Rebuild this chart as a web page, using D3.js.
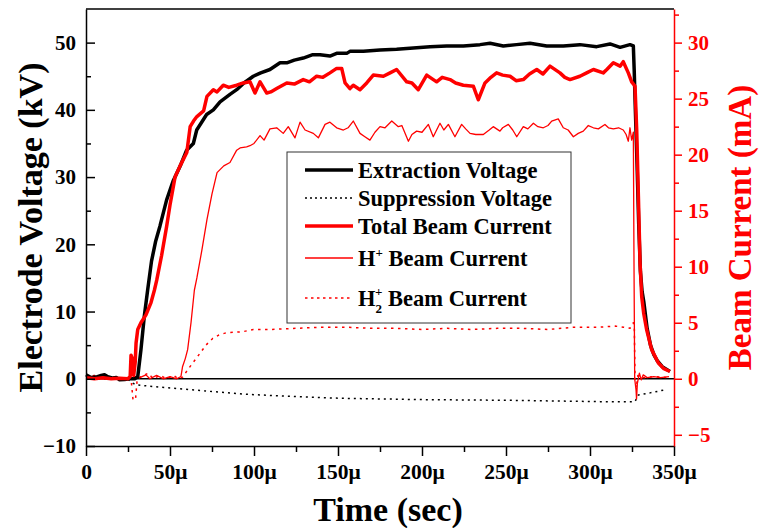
<!DOCTYPE html>
<html>
<head>
<meta charset="utf-8">
<script src="https://cdn.jsdelivr.net/npm/d3@7"></script>
<style>
  body { margin: 0; background: #fff; }
  text { font-family: "Liberation Serif", "Times New Roman", serif; font-weight: bold; }
</style>
</head>
<body>
<script>
'use strict';

// time in microseconds, left axis kV, right axis mA
const extraction = [[0,0.6],[3,0.2],[6,0.25],[9,0.5],[11,0.6],[13,0.3],[16,0.1],[18,0.2],[20,-0.15],[23,-0.1],[26,0],[29,0],
  [30.8,0.3],[32.7,4.3],[34.7,9.3],[36.7,13.2],[39,17.5],[41.5,20.5],[44,22.7],[48,26.6],[52,29.5],[56,31.6],[59.9,34],
  [63.9,35],[65.9,37],[71.8,39.3],[75.8,40],[79.8,41.2],[85.7,42.3],[89.7,43],[94,44],[99.6,45],[104,45.5],[109.5,46],
  [115.5,47],[119.5,47],[124,47.4],[129.3,47.7],[135,48.2],[139.3,48.2],[145.2,48],[149.2,48.4],[155.2,48.4],[157.1,48.7],
  [165.1,48.7],[175,48.9],[184.9,49],[194.8,49.2],[204.8,49.4],[214.7,49.5],[224.6,49.5],[234.5,49.7],[240.5,49.9],
  [248.4,49.5],[256.3,49.7],[264.3,49.9],[274.2,49.5],[284.1,49.5],[294,49.7],[304,49.4],[311.9,49.8],[317.9,49.3],
  [323.8,49.7],[325.8,49.5],[326.3,46],[327,40],[328,32],[329,23],[330,16],[331,13],[332,11.5],[334,7.5],[336,5],
  [338,3.6],[340,2.7],[343,1.8],[347.6,1.1]];

const suppression = [[0,0],[10,0],[20,0],[25,-0.1],[27.8,-0.65],[30,-0.9],[39.7,-1.15],[56,-1.5],[75,-1.9],[95,-2.3],
  [120,-2.6],[151,-2.9],[200,-3.1],[250,-3.2],[306,-3.4],[326,-3.4],[326.8,-3.4],[328.8,-2.4],[335.7,-2.1],[345.6,-1.6]];

const totalCurrent = [[0,0.1],[5,0],[10,0.1],[15,0],[20,0.05],[25,0],[26.3,0.2],[26.8,2.1],[27.6,1.8],[28.4,0.3],[29.3,1.5],
  [29.8,3.2],[30.8,4.4],[32.7,5],[35.7,5.7],[38.7,6.8],[40.7,7.9],[42.1,8.8],[45,11],[48,13.6],[50,15.5],[53,18],[56,19],
  [58,19.6],[60,20.2],[62,22.5],[64,23],[66,23.4],[70,23.9],[72,25.2],[75.8,25.8],[78,25.6],[81.7,26.2],[85,26],[89.7,26.2],
  [93.6,26.4],[97.6,26.5],[100.6,25.5],[103.6,26.5],[107.6,25.5],[110,25.6],[113.5,25.9],[119.5,26.4],[124,26.3],[129.3,26.7],
  [133,26.5],[137.3,27],[141,26.9],[145.2,27.3],[149.2,27.7],[152.2,27.7],[154.2,26.4],[157.1,25.9],[159.1,26.2],[163.1,25.8],
  [167.1,26.4],[171,27.1],[177,27],[181,27.3],[184.9,27.6],[190.9,26.5],[194,26.4],[197.8,25.8],[202.8,27.1],[208.7,26.5],
  [212,26.9],[216.7,26.7],[220,26.4],[224.6,26.2],[230.6,26.1],[233.5,24.9],[237.5,26.4],[241,26.9],[244.4,27.3],[248,27.1],
  [252.4,27],[256,26.6],[260.3,26.7],[264,27.2],[268.3,27.6],[272,27.2],[276.2,27.9],[282.1,27.3],[285,26.9],[288.1,26.7],
  [294,27],[298,27.3],[302,27.6],[307.9,27.3],[310,27.6],[313.9,28.2],[317.9,27.9],[319.8,28.3],[322.8,27.3],[324.8,26.5],
  [325.8,26.3],[326.8,26.1],[327.8,22.2],[328.8,16.3],[329.8,10.3],[330.8,7.3],[332,5.8],[333.7,4.4],[336.7,2.6],[340.7,1.4],
  [344,0.9],[347.6,0.65]];

const hPlusCurrent = [[0,0.1],[8,0.2],[15,0.1],[22,0.1],[26,0.1],[26.8,2.1],[27.5,0.5],[28.5,0.2],[32,0.1],[35.7,0.35],[38,0],
  [42,0.3],[46,0],[50,0.2],[54,0],[56.5,0.2],[57.5,1.1],[59.1,1.8],[60.5,2.6],[62.5,5],[64.5,7.9],[66,9],[69,11.5],[72,14.2],
  [75,16.5],[78,18.4],[82,19],[85.7,19.3],[89.7,20.4],[91.7,20.6],[95.6,20.7],[97.6,20.8],[100,21],[103.6,21.7],[106,21.3],
  [109.5,22.3],[113.5,22.4],[117.4,21.9],[120.4,22.5],[124.4,21.5],[127.4,22.9],[130.4,22.2],[135.3,21.9],[138.3,21.5],
  [142.3,22.7],[145.2,22.9],[149.2,22.4],[153.2,22.2],[156,22.4],[159.1,23],[163.1,21.9],[166,21.6],[169,21.3],[172,22],
  [175,22.5],[178,22.4],[182,23],[185.9,22.5],[188,22.6],[191.9,21.2],[194,21.8],[196.8,22.1],[200,22],[203.8,22.7],
  [206.7,21.6],[210.7,22.8],[213,22.2],[215.7,22.7],[219.6,21.6],[223.6,22.7],[226,22.3],[228.6,21.9],[232,21.8],[236.5,21.8],
  [240,22.2],[242.4,22.5],[246.4,22.1],[248,22.4],[251.4,22.7],[254,22.2],[256.4,21.6],[260.3,22.5],[263,22.3],[266.3,22.8],
  [269,22.5],[272.2,22.4],[275,22.6],[277.2,23],[281.1,23.2],[284.1,22.4],[287,22.2],[290.1,21.6],[293,21.9],[296,22.1],
  [299,22.6],[302,22.4],[305,22.3],[308.9,22.7],[311,22.4],[313.9,22.3],[317,22.4],[319.8,22.2],[321.5,21.8],[322.8,21.2],
  [323.8,22.4],[324.8,21.3],[325.8,22],[326.2,10],[326.6,0],[327.4,-1],[327.7,-1.8],[328.2,-0.4],[329.4,0.5],[330.5,-0.1],
  [331.7,0.35],[334,0.1],[338,0.2],[342,0.1],[347,0.2]];

const h2PlusCurrent = [[0,0.1],[5,0.3],[10,0],[15,0.2],[20,0.1],[25,0],[27,-0.3],[28,-1.9],[29.5,-1.8],[30.5,0],[33,0.2],
  [37,0.5],[40,0],[44,0.3],[48,0],[52,0.3],[55,0],[57.5,0.15],[61.5,1],[66.5,2],[71.4,3],[75.4,3.6],[79,3.9],[83.3,4.1],
  [93.3,4.2],[99.6,4.4],[110,4.4],[125,4.5],[140,4.6],[155,4.6],[170,4.5],[185,4.5],[200,4.4],[215,4.5],[230,4.4],[245,4.5],
  [260,4.5],[275,4.4],[290,4.6],[305,4.6],[315,4.7],[320,4.6],[323.8,4.5],[325.8,5],[326.4,4.4],[326.8,0],[327.5,-0.8],
  [328.5,0.3],[332,0.1],[338,0.2],[347,0.1]];

const xTicks = [0, 50, 100, 150, 200, 250, 300, 350];
const leftTicks = [-10, 0, 10, 20, 30, 40, 50];
const rightTicks = [-5, 0, 5, 10, 15, 20, 25, 30];

const legendItems = [
  { label: 'Extraction Voltage', color: '#000', width: 3.5, dash: null },
  { label: 'Suppression Voltage', color: '#000', width: 1.5, dash: '2,4' },
  { label: 'Total Beam Current', color: '#f00', width: 3.5, dash: null },
  { label: 'H+ Beam Current', color: '#f00', width: 1.3, dash: null },
  { label: 'H2+ Beam Current', color: '#f00', width: 1.5, dash: '2.5,4.5' },
];

const chart = { width: 760, height: 528, left: 86, right: 674, top: 9, bottom: 446 };

const svg = d3.select('body').append('svg')
  .attr('width', chart.width)
  .attr('height', chart.height);

const x = d3.scaleLinear().domain([0, 350]).range([chart.left, chart.right]);
const yL = d3.scaleLinear().domain([-10, 55]).range([chart.bottom, chart.top]);
const yR = d3.scaleLinear().domain([-6, 33]).range([chart.bottom, chart.top]);

// zero line
svg.append('line')
  .attr('x1', chart.left).attr('x2', chart.right)
  .attr('y1', yL(0)).attr('y2', yL(0))
  .attr('stroke', '#000').attr('stroke-width', 1.5);

const lineL = d3.line().x(d => x(d[0])).y(d => yL(d[1]));
const lineR = d3.line().x(d => x(d[0])).y(d => yR(d[1]));

function drawSeries(data, gen, item) {
  const p = svg.append('path')
    .datum(data)
    .attr('d', gen)
    .attr('fill', 'none')
    .attr('stroke', item.color)
    .attr('stroke-width', item.width)
    .attr('stroke-linejoin', 'round');
  if (item.dash) p.attr('stroke-dasharray', item.dash);
}

drawSeries(suppression, lineL, legendItems[1]);
drawSeries(h2PlusCurrent, lineR, legendItems[4]);
drawSeries(hPlusCurrent, lineR, legendItems[3]);
drawSeries(extraction, lineL, legendItems[0]);
drawSeries(totalCurrent, lineR, legendItems[2]);

// legend
const legend = svg.append('g');
legend.append('rect')
  .attr('x', 287).attr('y', 152).attr('width', 284).attr('height', 171)
  .attr('fill', '#fff').attr('stroke', '#333').attr('stroke-width', 1);

const rowY = [170, 198, 226, 258, 298];
legendItems.forEach((item, i) => {
  const l = legend.append('line')
    .attr('x1', 305).attr('x2', 353)
    .attr('y1', rowY[i]).attr('y2', rowY[i])
    .attr('stroke', item.color).attr('stroke-width', item.width);
  if (item.dash) l.attr('stroke-dasharray', item.dash === '2,4' ? '2,3' : '2.5,3.5');
  const t = legend.append('text')
    .attr('x', 358).attr('y', rowY[i] + 7.5)
    .attr('font-size', 22.5);
  if (i === 3) {
    t.append('tspan').text('H');
    t.append('tspan').attr('font-size', 13).attr('dy', -9).text('+');
    t.append('tspan').attr('dy', 9).text(' Beam Current');
  } else if (i === 4) {
    t.append('tspan').text('H');
    t.append('tspan').attr('font-size', 13).attr('dy', 7).text('2');
    t.append('tspan').attr('font-size', 13).attr('dx', -7).attr('dy', -17).text('+');
    t.append('tspan').attr('dy', 10).text(' Beam Current');
  } else {
    t.text(item.label);
  }
});

// top border
svg.append('line')
  .attr('x1', chart.left).attr('x2', chart.right)
  .attr('y1', chart.top).attr('y2', chart.top)
  .attr('stroke', '#000').attr('stroke-width', 1.5);

// axes
const fmtX = d => d === 0 ? '0' : d + 'μ';

const gx = svg.append('g')
  .attr('transform', `translate(0,${chart.bottom})`)
  .call(d3.axisBottom(x).tickValues(xTicks).tickFormat(fmtX).tickSize(10).tickSizeOuter(0).tickPadding(8));
svg.append('g')
  .attr('transform', `translate(0,${chart.bottom})`)
  .call(d3.axisBottom(x).tickValues(d3.range(25, 350, 50)).tickFormat('').tickSize(6).tickSizeOuter(0))
  .select('.domain').remove();

const gl = svg.append('g')
  .attr('transform', `translate(${chart.left},0)`)
  .call(d3.axisLeft(yL).tickValues(leftTicks).tickSize(-9).tickSizeOuter(0).tickPadding(10));
svg.append('g')
  .attr('transform', `translate(${chart.left},0)`)
  .call(d3.axisLeft(yL).tickValues(d3.range(-5, 55, 10)).tickFormat('').tickSize(-5).tickSizeOuter(0))
  .select('.domain').remove();

const gr = svg.append('g')
  .attr('transform', `translate(${chart.right},0)`)
  .call(d3.axisRight(yR).tickValues(rightTicks).tickSize(8).tickSizeOuter(0).tickPadding(6));
const grm = svg.append('g')
  .attr('transform', `translate(${chart.right},0)`)
  .call(d3.axisRight(yR).tickValues(d3.range(-2.5, 33, 5)).tickFormat('').tickSize(5).tickSizeOuter(0));
grm.select('.domain').remove();

svg.selectAll('.tick line, .domain').attr('stroke', '#000').attr('stroke-width', 1.5);
[gr, grm].forEach(g => {
  g.selectAll('path, line').attr('stroke', '#f00').attr('stroke-width', 1.5);
});
[gx, gl, gr].forEach(g => g.attr('font-family', null).attr('font-size', null));
gx.selectAll('text').attr('fill', '#000').attr('font-size', 21.5);
gl.selectAll('text').attr('fill', '#000').attr('font-size', 21);
gr.selectAll('text').attr('fill', '#f00').attr('font-size', 21);

// axis titles
svg.append('text')
  .attr('transform', `translate(42,${(chart.top + chart.bottom) / 2}) rotate(-90)`)
  .attr('text-anchor', 'middle')
  .attr('font-size', 34)
  .text('Electrode Voltage (kV)');

svg.append('text')
  .attr('transform', `translate(751,${(chart.top + chart.bottom) / 2}) rotate(-90)`)
  .attr('text-anchor', 'middle')
  .attr('font-size', 33)
  .attr('fill', '#f00')
  .text('Beam Current (mA)');

svg.append('text')
  .attr('x', 388)
  .attr('y', 521)
  .attr('text-anchor', 'middle')
  .attr('font-size', 34)
  .text('Time (sec)');
</script>
</body>
</html>
